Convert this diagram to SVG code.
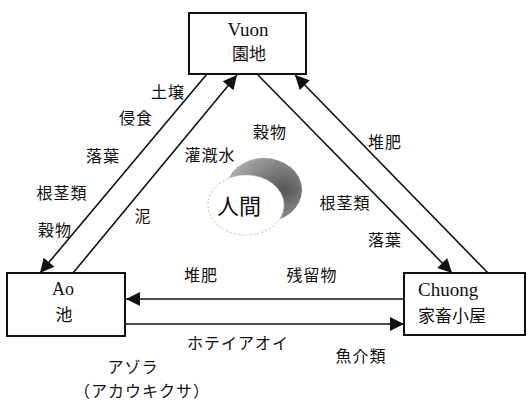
<svg xmlns="http://www.w3.org/2000/svg" width="528" height="402" viewBox="0 0 528 402">
<style>
.box{fill:#fff;stroke:#111;stroke-width:2}
.ln{stroke:#111;stroke-width:1.6;fill:none}
.lat{font-family:"Liberation Serif","DejaVu Serif",serif;font-size:19px;fill:#111}
.jp{font-family:"Noto Sans CJK JP","Noto Sans",sans-serif;font-size:17px;fill:#111}
.lb{font-family:"Noto Sans CJK JP","Noto Sans",sans-serif;font-size:16px;fill:#111;text-anchor:middle;letter-spacing:1px}
</style>
<defs>
<marker id="ahb" viewBox="0 0 10 10" refX="10" refY="5" markerWidth="17" markerHeight="14" markerUnits="userSpaceOnUse" orient="auto">
<path d="M0,0 L10,5 L0,10 Z" fill="#111"/>
</marker>
<radialGradient id="gg" cx="0.75" cy="0.5" r="0.7">
<stop offset="0" stop-color="#555"/>
<stop offset="1" stop-color="#aaa"/>
</radialGradient>
</defs>
<g id="human">
<ellipse cx="264" cy="190" rx="38" ry="32" fill="url(#gg)"/>
<ellipse cx="246" cy="205" rx="38" ry="30" fill="#fff" stroke="#bbb" stroke-width="1" stroke-dasharray="2 2"/>
<text class="jp" x="239" y="214" text-anchor="middle" style="font-size:22px">人間</text>
</g>
<g id="connectors">
<line class="ln" x1="207" y1="74" x2="40" y2="273" marker-end="url(#ahb)"/>
<line class="ln" x1="73" y1="273" x2="237" y2="75" marker-end="url(#ahb)"/>
<line class="ln" x1="257" y1="74" x2="452" y2="273" marker-end="url(#ahb)"/>
<line class="ln" x1="488" y1="273" x2="295" y2="75" marker-end="url(#ahb)"/>
<line class="ln" x1="405" y1="299" x2="126" y2="299" marker-end="url(#ahb)"/>
<line class="ln" x1="125" y1="324" x2="404" y2="324" marker-end="url(#ahb)"/>
</g>
<g id="vuon">
<rect class="box" x="189" y="13" width="117" height="61"/>
<text class="lat" x="248" y="36" text-anchor="middle">Vuon</text>
<text class="jp" x="249" y="60" text-anchor="middle">園地</text>
</g>
<g id="ao">
<rect class="box" x="7" y="273" width="118" height="63"/>
<text class="lat" x="63" y="295" text-anchor="middle" style="font-size:18px">Ao</text>
<text class="jp" x="64" y="321" text-anchor="middle">池</text>
</g>
<g id="chuong">
<rect class="box" x="404" y="273" width="121" height="62"/>
<text class="lat" x="418" y="296">Chuong</text>
<text class="jp" x="418" y="322">家畜小屋</text>
</g>
<g id="labels">
<text class="lb" x="168" y="98">土壌</text>
<text class="lb" x="136" y="124">侵食</text>
<text class="lb" x="103" y="162">落葉</text>
<text class="lb" x="62" y="199">根茎類</text>
<text class="lb" x="55" y="236">穀物</text>
<text class="lb" x="210" y="161">灌漑水</text>
<text class="lb" x="143" y="222">泥</text>
<text class="lb" x="270" y="138">穀物</text>
<text class="lb" x="385" y="148">堆肥</text>
<text class="lb" x="345" y="209">根茎類</text>
<text class="lb" x="385" y="246">落葉</text>
<text class="lb" x="201" y="281">堆肥</text>
<text class="lb" x="312" y="281">残留物</text>
<text class="lb" x="238" y="349">ホテイアオイ</text>
<text class="lb" x="361" y="362">魚介類</text>
<text class="lb" x="133" y="373">アゾラ</text>
<text class="lb" x="142" y="397">（アカウキクサ）</text>
</g>
</svg>
